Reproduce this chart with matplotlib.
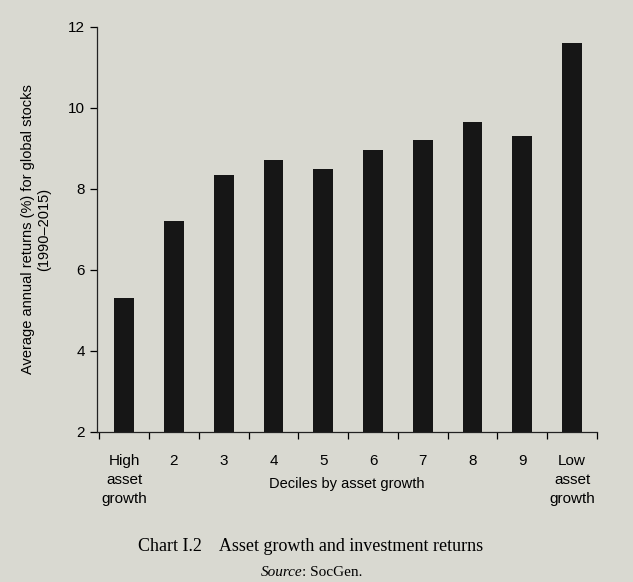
import numpy as np
import matplotlib
matplotlib.use('Agg')
import matplotlib.pyplot as plt

# 数据
categories = ['High\nasset\ngrowth', '2', '3', '4', '5', '6', '7', '8', '9', 'Low\nasset\ngrowth']
returns = [5.3, 7.2, 8.35, 8.7, 8.5, 8.95, 9.2, 9.65, 9.3, 11.6]

paper = '#d9d9d1'
plt.rcParams['font.family'] = ['Liberation Sans', 'DejaVu Sans']

fig = plt.figure(figsize=(6.33, 5.82), dpi=100, facecolor=paper)
ax = fig.add_axes([0.153, 0.258, 0.79, 0.696], facecolor=paper)

x = np.arange(len(categories))
ax.bar(x, returns, width=0.4, bottom=0, color='#161616')

ax.set_ylim(2, 12)
ax.set_xlim(-0.55, 9.5)
ax.set_yticks([2, 4, 6, 8, 10, 12])

# 刻度线在类别之间，标签在类别中心
ax.set_xticks(np.arange(-0.5, 10, 1))
ax.set_xticklabels([])
ax.set_xticks(x, minor=True)
ax.set_xticklabels(categories, minor=True, fontsize=11, linespacing=1.45)
ax.tick_params(axis='x', which='minor', length=0, pad=16)
ax.tick_params(axis='x', which='major', length=5, width=0.9, direction='out')
ax.tick_params(axis='y', length=5, width=0.9, direction='out', labelsize=11)

for s in ['top', 'right']:
    ax.spines[s].set_visible(False)
for s in ['left', 'bottom']:
    ax.spines[s].set_linewidth(0.9)
    ax.spines[s].set_color('#222222')

ax.set_ylabel('Average annual returns (%) for global stocks\n(1990\u20132015)', fontsize=10.5, labelpad=12)

fig.text(0.548, 0.168, 'Deciles by asset growth', ha='center', va='center', fontsize=10.5)

# 图注
fig.text(0.49, 0.061, 'Chart I.2    Asset growth and investment returns',
         ha='center', va='center', fontsize=13, family='Liberation Serif')
fig.text(0.477, 0.016, 'Source', ha='right', va='center', fontsize=11,
         family='Liberation Serif', style='italic')
fig.text(0.477, 0.016, ': SocGen.', ha='left', va='center', fontsize=11,
         family='Liberation Serif')

plt.savefig('out.png', dpi=100, facecolor=paper)
